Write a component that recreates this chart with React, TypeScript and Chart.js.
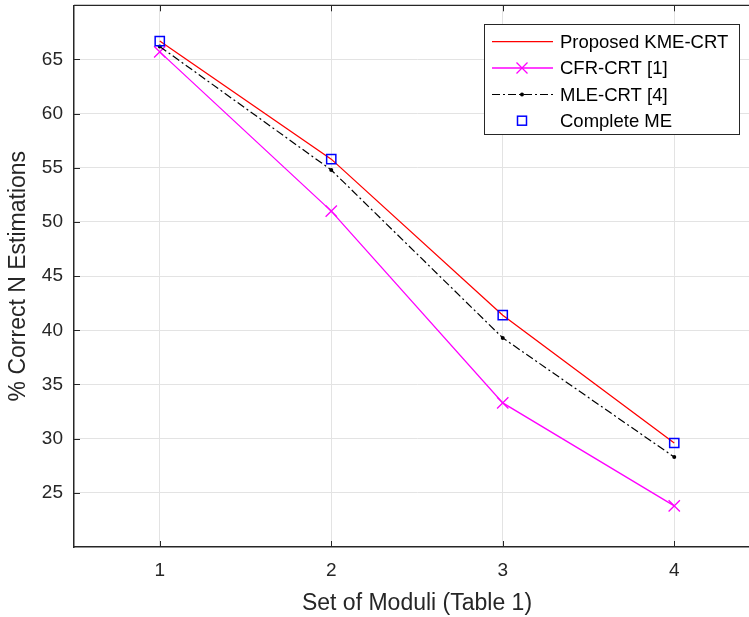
import React, { useEffect, useRef } from "react";
import { Chart, registerables } from "chart.js";

Chart.register(...registerables);

const xValues = [1, 2, 3, 4];
const proposedKME = [66.7, 55.8, 41.4, 29.6];
const cfrCRT = [65.7, 51.0, 33.3, 23.8];
const mleCRT = [66.2, 54.8, 39.3, 28.3];
const completeME = [66.7, 55.8, 41.4, 29.6];

const xTicks = [0.5, 1, 2, 3, 4, 4.5];
const xLabels = [1, 2, 3, 4];
const yTicks = [20, 25, 30, 35, 40, 45, 50, 55, 60, 65, 70];
const yLabels = [25, 30, 35, 40, 45, 50, 55, 60, 65];

const seriesNames = ["Proposed KME-CRT", "CFR-CRT [1]", "MLE-CRT [4]", "Complete ME"];

const FONT = "'Liberation Sans', Arial, Helvetica, sans-serif";
const AXIS = "#262626";
const SHIFT = 4;
const CANVAS_W = 800;
const CANVAS_H = 617 + SHIFT;

const pts = (ys: number[]) => xValues.map((x, i) => ({ x, y: ys[i] }));

const decorPlugin = {
  id: "decor",
  afterDraw(chart: any) {
    const ctx = chart.ctx;
    const { left, right, top, bottom } = chart.chartArea;
    const xs = chart.scales.x;
    const ys = chart.scales.y;
    ctx.save();
    ctx.strokeStyle = AXIS;
    ctx.lineWidth = 1.3;
    ctx.beginPath();
    ctx.moveTo(left, top);
    ctx.lineTo(right, top);
    ctx.stroke();
    ctx.lineWidth = 1;
    ctx.beginPath();
    xLabels.forEach((v) => {
      const px = Math.round(xs.getPixelForValue(v)) + 0.5;
      ctx.moveTo(px, bottom);
      ctx.lineTo(px, bottom - 6);
      ctx.moveTo(px, top);
      ctx.lineTo(px, top + 6);
    });
    yLabels.forEach((v) => {
      const py = Math.round(ys.getPixelForValue(v)) + 0.5;
      ctx.moveTo(left, py);
      ctx.lineTo(left + 6, py);
    });
    ctx.stroke();

    // legend (page coordinates shifted by canvas offset)
    const oy = SHIFT;
    const bx = 484, by = 24 + oy, bw = 255, bh = 110;
    ctx.fillStyle = "#ffffff";
    ctx.fillRect(bx, by, bw, bh);
    ctx.strokeStyle = AXIS;
    ctx.lineWidth = 1;
    ctx.strokeRect(bx + 0.5, by + 0.5, bw, bh);
    const rows = [41.7, 68, 94.5, 120.7];
    const x0 = 492, x1 = 553, xm = 522;
    ctx.font = `18.5px ${FONT}`;
    ctx.textBaseline = "middle";
    ctx.textAlign = "left";
    rows.forEach((r, i) => {
      const ry = r + oy;
      ctx.save();
      if (i === 0) {
        ctx.strokeStyle = "#ff0000";
        ctx.lineWidth = 1.3;
        ctx.beginPath(); ctx.moveTo(x0, ry); ctx.lineTo(x1, ry); ctx.stroke();
      } else if (i === 1) {
        ctx.strokeStyle = "#ff00ff";
        ctx.lineWidth = 1.3;
        ctx.beginPath(); ctx.moveTo(x0, ry); ctx.lineTo(x1, ry); ctx.stroke();
        const d = 5.5;
        ctx.beginPath();
        ctx.moveTo(xm - d, ry - d); ctx.lineTo(xm + d, ry + d);
        ctx.moveTo(xm - d, ry + d); ctx.lineTo(xm + d, ry - d);
        ctx.stroke();
      } else if (i === 2) {
        ctx.strokeStyle = "#000000";
        ctx.lineWidth = 1.2;
        ctx.setLineDash([8, 3, 2, 3]);
        ctx.beginPath(); ctx.moveTo(x0, ry); ctx.lineTo(x1, ry); ctx.stroke();
        ctx.setLineDash([]);
        ctx.fillStyle = "#000";
        ctx.beginPath(); ctx.arc(xm, ry, 2, 0, Math.PI * 2); ctx.fill();
      } else {
        ctx.strokeStyle = "#0000ff";
        ctx.lineWidth = 1.5;
        ctx.strokeRect(xm - 4.5, ry - 4.5, 9, 9);
      }
      ctx.restore();
      ctx.fillStyle = "#000";
      ctx.fillText(seriesNames[i], 560, ry + 1);
    });
    ctx.restore();
  },
};

export default function App() {
  const ref = useRef<HTMLCanvasElement | null>(null);
  useEffect(() => {
    if (!ref.current) return;
    const chart = new Chart(ref.current, {
      type: "line",
      data: {
        datasets: [
          {
            label: seriesNames[0],
            data: pts(proposedKME),
            borderColor: "#ff0000",
            borderWidth: 1.3,
            pointRadius: 0,
            order: 1,
          },
          {
            label: seriesNames[1],
            data: pts(cfrCRT),
            borderColor: "#ff00ff",
            borderWidth: 1.3,
            pointStyle: "crossRot",
            pointRadius: 8,
            pointBorderWidth: 1.3,
            pointBorderColor: "#ff00ff",
            order: 3,
          },
          {
            label: seriesNames[2],
            data: pts(mleCRT),
            borderColor: "#000000",
            borderWidth: 1.2,
            borderDash: [8, 3, 2, 3],
            pointStyle: "circle",
            pointRadius: 2,
            pointBackgroundColor: "#000",
            pointBorderColor: "#000",
            pointBorderWidth: 0,
            order: 2,
          },
          {
            label: seriesNames[3],
            data: pts(completeME),
            showLine: false,
            pointStyle: "rect",
            pointRadius: 6.5,
            pointBorderColor: "#0000ff",
            pointBackgroundColor: "rgba(0,0,0,0)",
            pointBorderWidth: 1.5,
            order: 0,
          },
        ],
      },
      options: {
        animation: false,
        responsive: false,
        devicePixelRatio: 1,
        layout: { padding: { top: 0, left: 0, right: 40, bottom: 0 } },
        plugins: { legend: { display: false }, tooltip: { enabled: false } },
        scales: {
          x: {
            type: "linear",
            min: 0.5,
            max: 4.5,
            afterBuildTicks: (s: any) => { s.ticks = xTicks.map((v) => ({ value: v })); },
            afterFit: (s: any) => { s.height = 70; s.paddingLeft = 0; s.paddingRight = 0; },
            grid: {
              color: (c: any) => (c.tick && (c.tick.value === 0.5 || c.tick.value === 4.5) ? "rgba(0,0,0,0)" : "#e3e3e3"),
              lineWidth: 1,
              drawTicks: false,
            },
            border: { display: true, color: AXIS, width: 1.5 },
            ticks: {
              padding: 12,
              color: AXIS,
              font: { family: FONT, size: 19 },
              maxRotation: 0,
              autoSkip: false,
              callback: (v: any) => (xLabels.includes(v) ? String(v) : ""),
            },
            title: {
              display: true,
              text: "Set of Moduli (Table 1)",
              color: AXIS,
              font: { family: FONT, size: 23 },
              padding: { top: 0, bottom: 0 },
            },
          },
          y: {
            type: "linear",
            min: 20,
            max: 70,
            afterBuildTicks: (s: any) => { s.ticks = yTicks.map((v) => ({ value: v })); },
            afterFit: (s: any) => { s.width = 74; s.paddingTop = 0; s.paddingBottom = 0; },
            grid: {
              color: (c: any) => (c.tick && (c.tick.value === 20 || c.tick.value === 70) ? "rgba(0,0,0,0)" : "#e3e3e3"),
              lineWidth: 1,
              drawTicks: false,
            },
            border: { display: true, color: AXIS, width: 1.5 },
            ticks: {
              padding: 11,
              color: AXIS,
              font: { family: FONT, size: 19 },
              autoSkip: false,
              callback: (v: any) => (yLabels.includes(v) ? String(v) : ""),
            },
            title: {
              display: true,
              text: "% Correct N Estimations",
              color: AXIS,
              font: { family: FONT, size: 23 },
              padding: { top: 5, bottom: 0 },
            },
          },
        },
      },
      plugins: [decorPlugin],
    });
    return () => chart.destroy();
  }, []);

  return (
    <div style={{ position: "fixed", left: 0, top: 0, width: 749, height: 617, overflow: "hidden", background: "#fff" }}>
      <canvas
        ref={ref}
        width={CANVAS_W}
        height={CANVAS_H}
        style={{ position: "absolute", left: 0, top: -SHIFT, width: CANVAS_W, height: CANVAS_H, display: "block" }}
      />
    </div>
  );
}
